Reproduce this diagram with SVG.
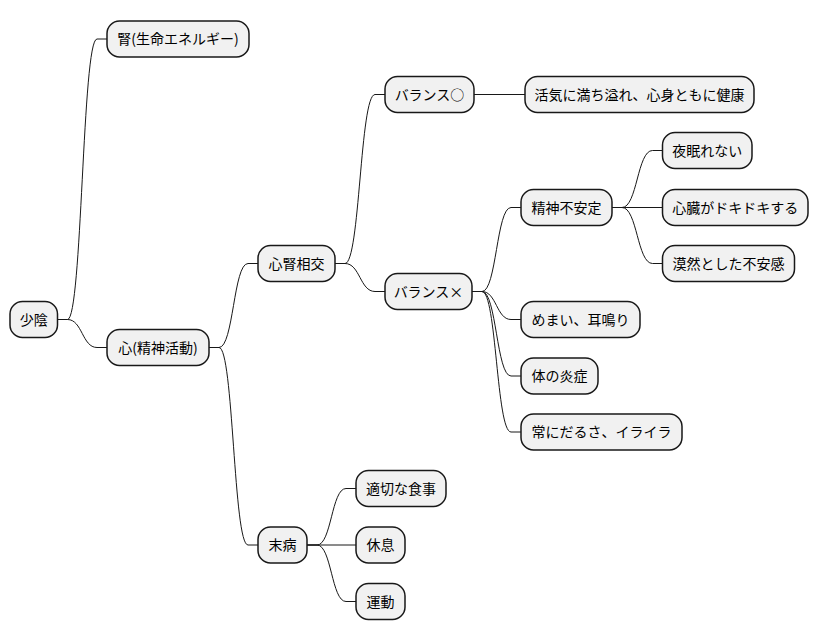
<svg xmlns="http://www.w3.org/2000/svg" width="819" height="640" viewBox="0 0 819 640">
<style>
.n rect{fill:#F1F1F1;stroke:#181818;stroke-width:1.5}
.n text{font-family:"Noto Sans CJK JP","DejaVu Sans",sans-serif;font-size:14px;fill:#000;text-anchor:middle}
#connectors path{fill:none;stroke:#181818;stroke-width:1}
</style>
<rect width="819" height="640" fill="#FFFFFF"/>
<g id="connectors">
<path d="M57.5,319.5 L67.5,319.5 C82.25,319.5 82.25,39 97,39 L107,39"/>
<path d="M57.5,319.5 L67.5,319.5 C82.25,319.5 82.25,347.5 97,347.5 L107,347.5"/>
<path d="M209,347.5 L219,347.5 C233.5,347.5 233.5,263.5 248,263.5 L258,263.5"/>
<path d="M209,347.5 L219,347.5 C233.5,347.5 233.5,545 248,545 L258,545"/>
<path d="M335,263.5 L345,263.5 C360,263.5 360,94.5 375,94.5 L385,94.5"/>
<path d="M335,263.5 L345,263.5 C360,263.5 360,291.5 375,291.5 L385,291.5"/>
<path d="M474,94.5 L525,94.5"/>
<path d="M472,291.5 L482,291.5 C496.5,291.5 496.5,207.5 511,207.5 L521,207.5"/>
<path d="M472,291.5 L482,291.5 C496.5,291.5 496.5,319.5 511,319.5 L521,319.5"/>
<path d="M472,291.5 L482,291.5 C496.5,291.5 496.5,376 511,376 L521,376"/>
<path d="M472,291.5 L482,291.5 C496.5,291.5 496.5,432 511,432 L521,432"/>
<path d="M612,207.5 L622,207.5 C637.25,207.5 637.25,150.5 652.5,150.5 L662.5,150.5"/>
<path d="M612,207.5 L662.5,207.5"/>
<path d="M612,207.5 L622,207.5 C637.25,207.5 637.25,263.5 652.5,263.5 L662.5,263.5"/>
<path d="M307,545 L317,545 C331.5,545 331.5,488.5 346,488.5 L356,488.5"/>
<path d="M307,545 L356,545"/>
<path d="M307,545 L317,545 C331.5,545 331.5,601.5 346,601.5 L356,601.5"/>
</g>
<g id="n-shoin" class="n"><rect x="10" y="301.5" width="47.5" height="36" rx="12.5"/><text x="33.75" y="324.5">少陰</text></g>
<g id="n-jin" class="n"><rect x="107" y="21" width="142" height="36" rx="12.5"/><text x="178" y="44">腎(生命エネルギー)</text></g>
<g id="n-shin" class="n"><rect x="107" y="329.5" width="102" height="36" rx="12.5"/><text x="158" y="352.5">心(精神活動)</text></g>
<g id="n-shinjin" class="n"><rect x="258" y="245.5" width="77" height="36" rx="12.5"/><text x="296.5" y="268.5">心腎相交</text></g>
<g id="n-mibyo" class="n"><rect x="258" y="527" width="49" height="36" rx="12.5"/><text x="282.5" y="550">末病</text></g>
<g id="n-balance-ok" class="n"><rect x="385" y="76.5" width="89" height="36" rx="12.5"/><text x="429.5" y="99.5">バランス○</text></g>
<g id="n-balance-ng" class="n"><rect x="385" y="273.5" width="87" height="36" rx="12.5"/><text x="428.5" y="296.5">バランス×</text></g>
<g id="n-kakki" class="n"><rect x="525" y="76.5" width="229" height="36" rx="12.5"/><text x="639.5" y="99.5">活気に満ち溢れ、心身ともに健康</text></g>
<g id="n-seishin" class="n"><rect x="521" y="189.5" width="91" height="36" rx="12.5"/><text x="566.5" y="212.5">精神不安定</text></g>
<g id="n-yonemure" class="n"><rect x="662.5" y="132.5" width="89.5" height="36" rx="12.5"/><text x="707.25" y="155.5">夜眠れない</text></g>
<g id="n-shinzo" class="n"><rect x="662.5" y="189.5" width="145.5" height="36" rx="12.5"/><text x="735.25" y="212.5">心臓がドキドキする</text></g>
<g id="n-bakuzen" class="n"><rect x="662.5" y="245.5" width="132" height="36" rx="12.5"/><text x="728.5" y="268.5">漠然とした不安感</text></g>
<g id="n-memai" class="n"><rect x="521" y="301.5" width="119" height="36" rx="12.5"/><text x="580.5" y="324.5">めまい、耳鳴り</text></g>
<g id="n-ensho" class="n"><rect x="521" y="358" width="77" height="36" rx="12.5"/><text x="559.5" y="381">体の炎症</text></g>
<g id="n-darusa" class="n"><rect x="521" y="414" width="161" height="36" rx="12.5"/><text x="601.5" y="437">常にだるさ、イライラ</text></g>
<g id="n-shokuji" class="n"><rect x="356" y="470.5" width="90" height="36" rx="12.5"/><text x="401" y="493.5">適切な食事</text></g>
<g id="n-kyusoku" class="n"><rect x="356" y="527" width="49" height="36" rx="12.5"/><text x="380.5" y="550">休息</text></g>
<g id="n-undo" class="n"><rect x="356" y="583.5" width="49" height="36" rx="12.5"/><text x="380.5" y="606.5">運動</text></g>
</svg>
